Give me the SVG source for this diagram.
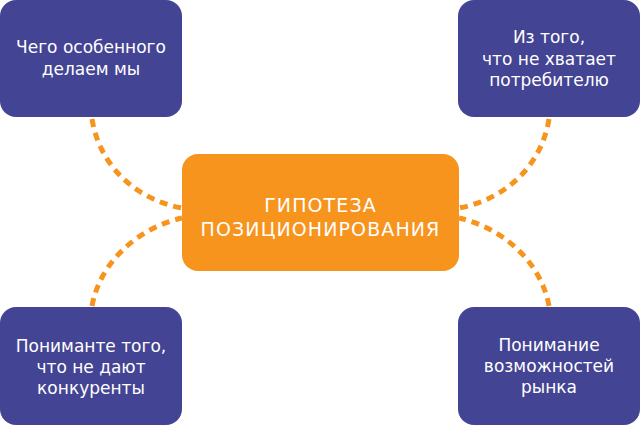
<svg xmlns="http://www.w3.org/2000/svg" width="641" height="426" viewBox="0 0 641 426">
<style>
.box{fill:#444494}
.center{fill:#F7941D}
.t{font-family:"DejaVu Sans","Open Sans",sans-serif;font-size:17px;fill:#ffffff;text-anchor:middle}
.ct{font-family:"DejaVu Sans","Open Sans",sans-serif;font-size:19px;fill:#ffffff;text-anchor:middle;letter-spacing:1.1px}
.c{fill:none;stroke:#F7941D;stroke-width:5;stroke-dasharray:8 6}
</style>
<rect width="641" height="426" fill="#ffffff"/>
<g id="connectors">
<path class="c" d="M92,119 C100,168 138,200 182,208"/>
<path class="c" d="M92,306 C100,262 138,228 182,218"/>
<path class="c" d="M549,119 C541,168 503,200 459,208"/>
<path class="c" d="M549,306 C541,262 503,228 459,218"/>
</g>
<g id="node-center">
<rect class="center" x="182" y="154" width="277" height="117" rx="16"/>
<text class="ct" x="320.5" y="212">ГИПОТЕЗА</text>
<text class="ct" x="320.5" y="236">ПОЗИЦИОНИРОВАНИЯ</text>
</g>
<g id="node-tl">
<rect class="box" x="0" y="0" width="182" height="117" rx="16"/>
<text class="t" x="91" y="53">Чего особенного</text>
<text class="t" x="91" y="75">делаем мы</text>
</g>
<g id="node-tr">
<rect class="box" x="458" y="0" width="182" height="117" rx="16"/>
<text class="t" x="549" y="43">Из того,</text>
<text class="t" x="549" y="65">что не хватает</text>
<text class="t" x="549" y="86">потребителю</text>
</g>
<g id="node-bl">
<rect class="box" x="0" y="307" width="182" height="118" rx="16"/>
<text class="t" x="91" y="352">Пониманте того,</text>
<text class="t" x="91" y="373">что не дают</text>
<text class="t" x="91" y="394">конкуренты</text>
</g>
<g id="node-br">
<rect class="box" x="458" y="307" width="182" height="118" rx="16"/>
<text class="t" x="549" y="351">Понимание</text>
<text class="t" x="549" y="372">возможностей</text>
<text class="t" x="549" y="393">рынка</text>
</g>
</svg>
